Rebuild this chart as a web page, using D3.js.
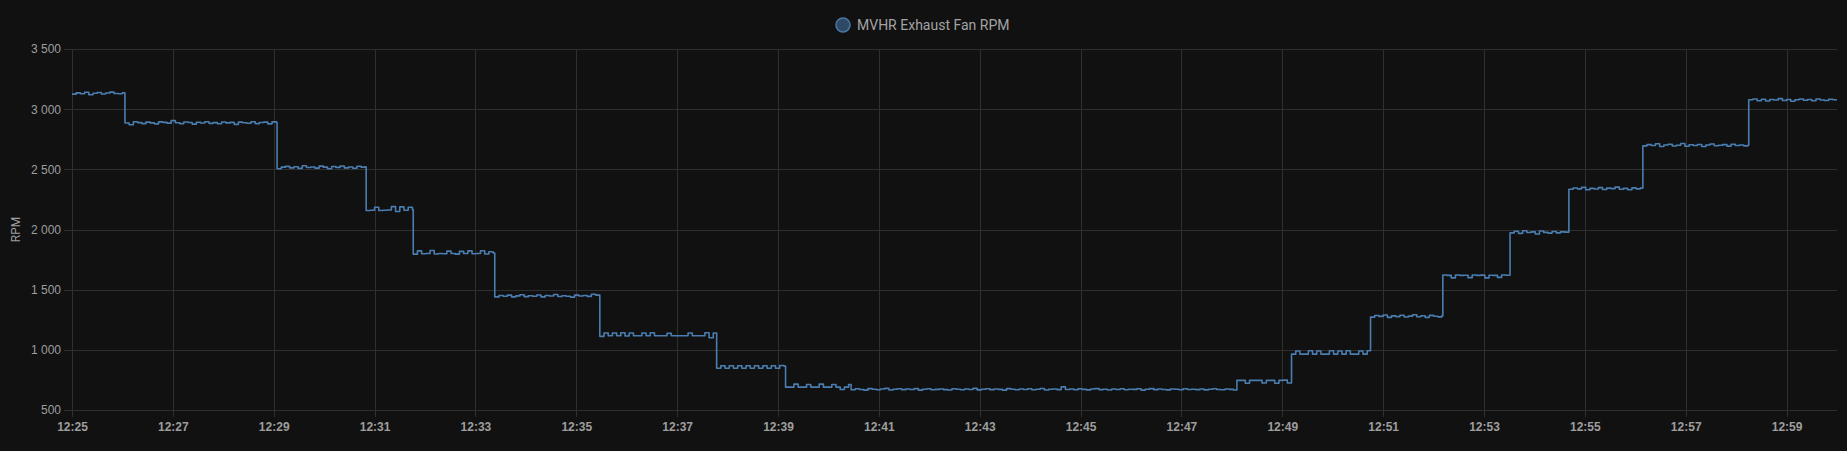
<!DOCTYPE html>
<html>
<head>
<meta charset="utf-8">
<script src="https://cdn.jsdelivr.net/npm/d3@7"></script>
<style>
  html, body { margin: 0; padding: 0; background: #111111; }
  svg { display: block; font-family: Roboto, "Noto Sans", sans-serif; }
</style>
</head>
<body>
<script>
//=== Data ===
const seriesName = "MVHR Exhaust Fan RPM"
const axisTitle = "RPM"
const yTicks = [500, 1000, 1500, 2000, 2500, 3000, 3500]
const xTickLabels = ["12:25", "12:27", "12:29", "12:31", "12:33", "12:35", "12:37", "12:39", "12:41",
  "12:43", "12:45", "12:47", "12:49", "12:51", "12:53", "12:55", "12:57", "12:59"]
const timeStart = "12:25:00"
const timeEnd = "13:00:00"
const sampleSeconds = 5

// each fan step: when it started, and the readings taken every 5 s after that
const stepStarts = ["12:25:00", "12:26:03", "12:29:04", "12:30:50", "12:31:46", "12:33:23",
  "12:35:28", "12:37:47", "12:39:09", "12:40:27", "12:48:06", "12:49:11", "12:50:45",
  "12:52:11", "12:53:31", "12:54:41", "12:56:09", "12:58:15"]

const stepReadings = [
  [3125, 3135, 3128, 3140, 3120, 3132, 3138, 3126, 3134, 3142, 3130, 3128, 3136],
  [2885, 2870, 2895, 2888, 2880, 2892, 2886, 2878, 2894, 2890, 2884, 2905, 2887, 2880, 2893,
   2889, 2876, 2891, 2885, 2896, 2882, 2888, 2879, 2893, 2886, 2890, 2874, 2892, 2887, 2883,
   2895, 2880, 2889, 2892, 2878, 2894, 2890],
  [2505, 2518, 2525, 2512, 2522, 2508, 2530, 2515, 2520, 2510, 2527, 2518, 2505, 2524, 2516,
   2528, 2512, 2520, 2509, 2526, 2518, 2522],
  [2158, 2160, 2185, 2158, 2160, 2162, 2190, 2150, 2188, 2160, 2185, 2165],
  [1795, 1822, 1798, 1800, 1825, 1796, 1800, 1798, 1820, 1800, 1795, 1818, 1800, 1822, 1798,
   1800, 1824, 1796, 1815, 1805],
  [1440, 1452, 1445, 1455, 1440, 1448, 1458, 1442, 1450, 1445, 1456, 1440, 1452, 1447, 1460,
   1443, 1450, 1445, 1438, 1455, 1447, 1452, 1444, 1462, 1455],
  [1112, 1140, 1117, 1140, 1117, 1142, 1115, 1140, 1117, 1117, 1140, 1117, 1142, 1117, 1117,
   1117, 1138, 1117, 1117, 1117, 1117, 1140, 1117, 1117, 1117, 1142, 1100, 1140],
  [847, 868, 847, 868, 847, 868, 847, 868, 847, 868, 847, 868, 847, 868, 847, 870, 865],
  [690, 690, 715, 690, 690, 712, 690, 690, 715, 690, 690, 712, 690, 670, 690, 712],
  [668, 676, 670, 665, 678, 672, 668, 674, 680, 666, 672, 677, 669, 674, 670, 678, 665, 673, 676, 668,
   671, 675, 669, 666, 677, 672, 668, 675, 670, 680, 667, 673, 676, 669, 674, 671, 665, 678, 672, 668,
   674, 670, 676, 668, 673, 679, 666, 672, 675, 669, 692, 670, 674, 668, 676, 671, 667, 674, 678, 669,
   672, 666, 675, 670, 677, 668, 673, 671, 676, 665, 672, 678, 669, 674, 670, 667, 675, 672, 668, 676,
   670, 673, 669, 675, 667, 672, 677, 670, 668, 674, 671, 666],
  [746, 746, 722, 746, 746, 746, 724, 746, 746, 722, 746, 748, 724],
  [964, 990, 964, 964, 992, 964, 990, 964, 964, 992, 964, 990, 964, 992, 964, 964, 990, 964, 992],
  [1272, 1285, 1278, 1290, 1270, 1282, 1276, 1288, 1273, 1280, 1292, 1275, 1283, 1270, 1286,
   1279, 1274, 1284],
  [1622, 1619, 1598, 1622, 1619, 1620, 1600, 1622, 1619, 1621, 1598, 1620, 1619, 1602, 1622, 1620],
  [1972, 1985, 1968, 1990, 1975, 1980, 1962, 1988, 1976, 1970, 1984, 1972, 1980, 1978],
  [2335, 2345, 2338, 2350, 2330, 2342, 2336, 2348, 2332, 2344, 2340, 2352, 2335, 2342, 2330,
   2346, 2338, 2344],
  [2695, 2705, 2698, 2712, 2690, 2702, 2708, 2694, 2700, 2715, 2692, 2704, 2698, 2706, 2690,
   2702, 2710, 2696, 2700, 2705, 2693, 2708, 2698, 2702, 2695, 2700],
  [3078, 3085, 3070, 3082, 3068, 3080, 3076, 3088, 3072, 3080, 3066, 3078, 3084, 3074, 3080,
   3070, 3085, 3076, 3072, 3082, 3078, 3076]
]

//=== Initialization ===
const W = 1847, H = 451
const margin = { top: 49, right: 10, bottom: 41, left: 72 }
const width = W - margin.left - margin.right
const height = H - margin.top - margin.bottom

const parseTime = d3.timeParse("%H:%M:%S")
const parseTick = d3.timeParse("%H:%M")
const textColor = "#9e9e9e"
const gridColor = "#2f2f2f"
const lineColor = "#4a7db0"

// build the point list
const endTime = parseTime(timeEnd)
let data = []
stepStarts.forEach((s, k) => {
  const t0 = parseTime(s)
  const next = k < stepStarts.length - 1 ? parseTime(stepStarts[k + 1]) : endTime
  stepReadings[k].forEach((v, i) => {
    const t = new Date(t0.getTime() + i * sampleSeconds * 1000)
    if (t < next) data.push({ time: t, rpm: v })
  })
})
data.push({ time: endTime, rpm: data[data.length - 1].rpm })

const svg0 = d3.select("body").append("svg")
  .attr("width", W)
  .attr("height", H)

const svg = svg0.append("g")
  .attr("transform", "translate(" + margin.left + "," + margin.top + ")")

const x = d3.scaleTime()
  .domain([parseTime(timeStart), endTime])
  .range([0, width])

const y = d3.scaleLinear()
  .domain([500, 3500])
  .range([height, 0])

const loc = d3.formatLocale({ decimal: ",", thousands: " ", grouping: [3], currency: ["", ""] })
const fmt = loc.format(",d")

const xTimes = xTickLabels.map(parseTick)

// grid
svg.append("g")
  .selectAll("line.h")
  .data(yTicks)
  .enter()
  .append("line")
  .attr("x1", -8)
  .attr("x2", width)
  .attr("y1", d => Math.round(y(d)) + 0.5)
  .attr("y2", d => Math.round(y(d)) + 0.5)
  .attr("stroke", gridColor)

svg.append("g")
  .selectAll("line.v")
  .data(xTimes)
  .enter()
  .append("line")
  .attr("x1", d => Math.round(x(d)) + 0.5)
  .attr("x2", d => Math.round(x(d)) + 0.5)
  .attr("y1", 0)
  .attr("y2", height + 7)
  .attr("stroke", gridColor)

// Y axis labels
const yAxis = svg.append("g")
  .call(d3.axisLeft(y).tickValues(yTicks).tickFormat(fmt).tickSize(0).tickPadding(11))
yAxis.select(".domain").remove()
yAxis.selectAll("text")
  .attr("fill", textColor)
  .style("font-size", "12px")

// X axis labels
const xAxis = svg.append("g")
  .attr("transform", "translate(0," + height + ")")
  .call(d3.axisBottom(x).tickValues(xTimes).tickFormat(d3.timeFormat("%H:%M")).tickSize(0).tickPadding(12))
xAxis.select(".domain").remove()
xAxis.selectAll("text")
  .attr("fill", textColor)
  .style("font-size", "12px")
  .style("font-weight", "bold")

// axis title
svg0.append("text")
  .attr("transform", "translate(20," + (margin.top + height / 2) + ") rotate(-90)")
  .attr("text-anchor", "middle")
  .attr("fill", textColor)
  .style("font-size", "12px")
  .text(axisTitle)

// the line
const line = d3.line()
  .curve(d3.curveStepAfter)
  .x(d => x(d.time))
  .y(d => y(d.rpm))

svg.append("path")
  .datum(data)
  .attr("d", line)
  .attr("fill", "none")
  .attr("stroke", lineColor)
  .attr("stroke-width", 1.6)
  .attr("stroke-linejoin", "round")

// legend
const legend = svg0.append("g")
  .attr("transform", "translate(843,25)")
legend.append("circle")
  .attr("r", 7)
  .attr("fill", "#2e4966")
  .attr("stroke", "#4a78a4")
  .attr("stroke-width", 1.5)
legend.append("text")
  .attr("x", 14)
  .attr("dy", "0.35em")
  .attr("fill", "#a3a3a3")
  .style("font-size", "14px")
  .text(seriesName)
</script>
</body>
</html>
